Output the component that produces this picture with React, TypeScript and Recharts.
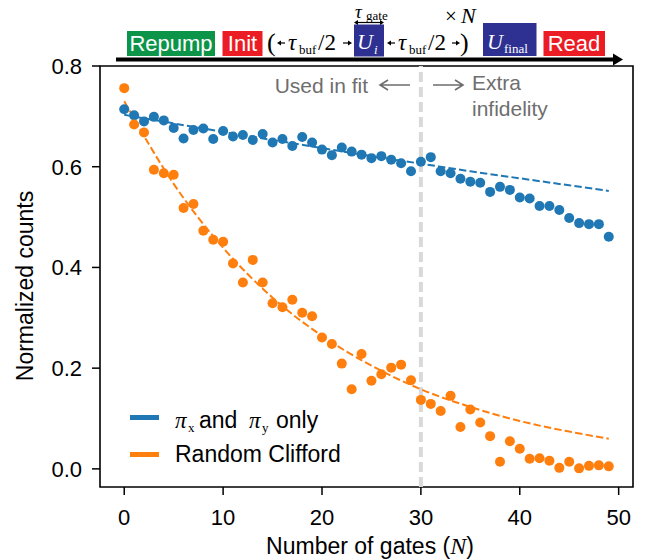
import React from "react"
import { ComposedChart, Scatter, Line, XAxis, YAxis, ReferenceLine, ReferenceArea } from "recharts"

// number of gates N
const gates = [
  0, 1, 2, 3, 4, 5, 6, 7, 8, 9, 10, 11, 12, 13, 14, 15, 16, 17, 18, 19, 20, 21, 22, 23, 24,
  25, 26, 27, 28, 29, 30, 31, 32, 33, 34, 35, 36, 37, 38, 39, 40, 41, 42, 43, 44, 45, 46, 47, 48, 49,
]

// pi_x and pi_y only
const pauliCounts = [
  0.714, 0.702, 0.69, 0.699, 0.692, 0.677, 0.656, 0.673, 0.676, 0.655,
  0.671, 0.66, 0.663, 0.653, 0.665, 0.648, 0.655, 0.641, 0.659, 0.648,
  0.634, 0.623, 0.638, 0.63, 0.624, 0.617, 0.621, 0.614, 0.607, 0.591,
  0.61, 0.619, 0.591, 0.587, 0.576, 0.57, 0.568, 0.55, 0.56, 0.554,
  0.539, 0.537, 0.522, 0.522, 0.514, 0.498, 0.488, 0.486, 0.486, 0.461,
]

// random Clifford
const cliffordCounts = [
  0.756, 0.684, 0.668, 0.594, 0.587, 0.584, 0.518, 0.526, 0.473, 0.455,
  0.451, 0.408, 0.37, 0.415, 0.37, 0.329, 0.321, 0.336, 0.31, 0.303,
  0.261, 0.248, 0.209, 0.158, 0.228, 0.175, 0.188, 0.201, 0.207, 0.176,
  0.137, 0.129, 0.115, 0.145, 0.083, 0.118, 0.092, 0.065, 0.014, 0.055,
  0.04, 0.02, 0.021, 0.016, 0.002, 0.014, 0.001, 0.006, 0.007, 0.005,
]

// fit curves
const fitGates = [0, 5, 10, 15, 20, 25, 30, 35, 40, 45, 49]
const pauliFit = [0.703, 0.686, 0.669, 0.653, 0.637, 0.621, 0.606, 0.591, 0.577, 0.563, 0.552]
const cliffordFit = [0.73, 0.566, 0.439, 0.34, 0.264, 0.205, 0.158, 0.123, 0.095, 0.074, 0.06]

const xTicks = [0, 10, 20, 30, 40, 50]
const yTicks = [0, 0.2, 0.4, 0.6, 0.8]
const cutoff = 30

const BLUE = "#1f77b4"
const ORANGE = "#ff7f0e"
const GRAY = "#6e6e6e"
const sans = "'Liberation Sans', Arial, sans-serif"
const serif = "'Liberation Serif', 'DejaVu Serif', serif"

const pauliPts = gates.map((n, i) => ({ n, v: pauliCounts[i] }))
const cliffordPts = gates.map((n, i) => ({ n, v: cliffordCounts[i] }))
const pauliFitPts = fitGates.map((n, i) => ({ n, v: pauliFit[i] }))
const cliffordFitPts = fitGates.map((n, i) => ({ n, v: cliffordFit[i] }))

const dot = (color: string) => (p: any) => <circle cx={p.cx} cy={p.cy} r={5} fill={color} />

// little arrow used in the pulse sequence
const Arr = ({ x1, x2, y }: { x1: number; x2: number; y: number }) => {
  const dir = x2 > x1 ? 1 : -1
  return (
    <g>
      <line x1={x1} y1={y} x2={x2 - dir * 3} y2={y} stroke="#000" strokeWidth={1.2} />
      <polygon points={`${x2},${y} ${x2 - dir * 4},${y - 2.5} ${x2 - dir * 4},${y + 2.5}`} fill="#000" />
    </g>
  )
}

const TauBuf = ({ x }: { x: number }) => (
  <g fontFamily={serif}>
    <text x={x} y={50} fontSize={23} fontStyle="italic">τ</text>
    <text x={x + 11} y={54} fontSize={13}>buf</text>
    <text x={x + 30} y={50} fontSize={23}>/2</text>
  </g>
)

const Sequence = () => (
  <g>
    <line x1={116} y1={59.5} x2={615} y2={59.5} stroke="#000" strokeWidth={4} />
    <polygon points="613,53.5 623,59.5 613,65.5" fill="#000" />

    <rect x={127} y={31} width={88} height={25} fill="#0c9548" />
    <text x={171} y={51} textAnchor="middle" fill="#fff" fontSize={22} fontFamily={sans}>Repump</text>
    <rect x={222.5} y={31} width={40} height={25} fill="#ec1c24" />
    <text x={242.5} y={51} textAnchor="middle" fill="#fff" fontSize={22} fontFamily={sans}>Init</text>

    <text x={267} y={51} fontSize={26} fontFamily={serif}>(</text>
    <Arr x1={285} x2={277} y={43} />
    <TauBuf x={288} />
    <Arr x1={343} x2={352} y={43} />

    <rect x={354} y={24.5} width={30} height={32} fill="#2e3192" />
    <text x={357} y={49} fill="#fff" fontSize={22} fontFamily={serif} fontStyle="italic">U</text>
    <text x={374} y={54} fill="#fff" fontSize={13} fontFamily={serif} fontStyle="italic">i</text>

    <text x={355} y={18} fontSize={19} fontFamily={serif} fontStyle="italic">τ</text>
    <text x={366} y={20} fontSize={13} fontFamily={serif}>gate</text>
    <Arr x1={369} x2={354} y={22.5} />
    <Arr x1={369} x2={384} y={22.5} />

    <Arr x1={395} x2={387} y={43} />
    <TauBuf x={398} />
    <Arr x1={452} x2={460} y={43} />
    <text x={460} y={51} fontSize={26} fontFamily={serif}>)</text>

    <text x={445} y={23} fontSize={21} fontFamily={serif}>×</text>
    <text x={461} y={23} fontSize={22} fontFamily={serif} fontStyle="italic">N</text>

    <rect x={483} y={23} width={53.5} height={33} fill="#2e3192" />
    <text x={487} y={49} fill="#fff" fontSize={22} fontFamily={serif} fontStyle="italic">U</text>
    <text x={504} y={53} fill="#fff" fontSize={13} fontFamily={serif}>final</text>

    <rect x={543.5} y={31} width={61.5} height={25} fill="#ec1c24" />
    <text x={574} y={51} textAnchor="middle" fill="#fff" fontSize={22} fontFamily={sans}>Read</text>
  </g>
)

const OpenArrow = ({ x1, x2, y }: { x1: number; x2: number; y: number }) => {
  const dir = x2 > x1 ? 1 : -1
  return (
    <path
      d={`M${x1},${y} L${x2},${y} M${x2 - dir * 8},${y - 5} L${x2},${y} L${x2 - dir * 8},${y + 5}`}
      stroke={GRAY}
      strokeWidth={1.6}
      fill="none"
    />
  )
}

export default function App() {
  return (
    <div style={{ position: "absolute", left: 0, top: 0, width: 652, height: 560, background: "#fff" }}>
      <ComposedChart width={652} height={560} margin={{ top: 66, right: 19, bottom: 0, left: 0 }}>
        <XAxis
          type="number"
          dataKey="n"
          domain={[-2.45, 51.45]}
          ticks={xTicks}
          interval={0}
          allowDataOverflow
          height={73}
          axisLine={false}
          tickSize={8}
          tickMargin={14}
          tickLine={{ stroke: "#000", strokeWidth: 1.5 }}
          tick={{ fill: "#000", fontSize: 22, fontFamily: sans }}
        />
        <YAxis
          type="number"
          dataKey="v"
          domain={[-0.036, 0.8]}
          ticks={yTicks}
          interval={0}
          allowDataOverflow
          width={100}
          axisLine={false}
          tickSize={8}
          tickMargin={10}
          tickFormatter={(v: number) => v.toFixed(1)}
          tickLine={{ stroke: "#000", strokeWidth: 1.5 }}
          tick={{ fill: "#000", fontSize: 22, fontFamily: sans }}
        />
        <ReferenceLine x={cutoff} stroke="#d9d9d9" strokeWidth={4} strokeDasharray="10 5" />
        <Scatter data={pauliPts} fill={BLUE} shape={dot(BLUE)} isAnimationActive={false} />
        <Line data={pauliFitPts} dataKey="v" type="monotone" stroke={BLUE} strokeWidth={2} strokeDasharray="7.4 3.2" dot={false} activeDot={false} isAnimationActive={false} />
        <Scatter data={cliffordPts} fill={ORANGE} shape={dot(ORANGE)} isAnimationActive={false} />
        <Line data={cliffordFitPts} dataKey="v" type="monotone" stroke={ORANGE} strokeWidth={2} strokeDasharray="7.4 3.2" dot={false} activeDot={false} isAnimationActive={false} />
        <ReferenceArea x1={-2.45} x2={51.45} y1={-0.036} y2={0.8} fill="none" stroke="#000" strokeWidth={1.6} />
      </ComposedChart>

      <svg width={652} height={560} style={{ position: "absolute", left: 0, top: 0, pointerEvents: "none" }}>
        <Sequence />

        {/* annotations around the cutoff */}
        <g fill={GRAY} fontSize={21} fontFamily={sans}>
          <text x={368} y={93} textAnchor="end">Used in fit</text>
          <text x={472} y={90}>Extra</text>
          <text x={472} y={116}>infidelity</text>
        </g>
        <OpenArrow x1={410} x2={380} y={85} />
        <OpenArrow x1={433} x2={463} y={85} />

        {/* legend */}
        <line x1={130} x2={159} y1={417.5} y2={417.5} stroke={BLUE} strokeWidth={5} />
        <text y={428} fontSize={23} fontFamily={sans} fill="#000">
          <tspan x={175} fontFamily={serif} fontStyle="italic" fontSize={23}>π</tspan>
          <tspan x={188} dy={4} fontFamily={serif} fontSize={13}>x</tspan>
          <tspan x={199} dy={-4}>and</tspan>
          <tspan x={249} fontFamily={serif} fontStyle="italic" fontSize={23}>π</tspan>
          <tspan x={262} dy={4} fontFamily={serif} fontSize={13}>y</tspan>
          <tspan x={276} dy={-4}>only</tspan>
        </text>
        <line x1={130} x2={159} y1={454.5} y2={454.5} stroke={ORANGE} strokeWidth={5} />
        <text x={175} y={462} fontSize={23} fontFamily={sans} fill="#000">Random Clifford</text>

        {/* axis labels */}
        <text transform="translate(33,286) rotate(-90)" textAnchor="middle" fontSize={23} fontFamily={sans} fill="#000">
          Normalized counts
        </text>
        <text x={370} y={554} textAnchor="middle" fontSize={23} fontFamily={sans} fill="#000">
          Number of gates (<tspan fontFamily={serif} fontStyle="italic" fontSize={24}>N</tspan>)
        </text>
      </svg>
    </div>
  )
}
